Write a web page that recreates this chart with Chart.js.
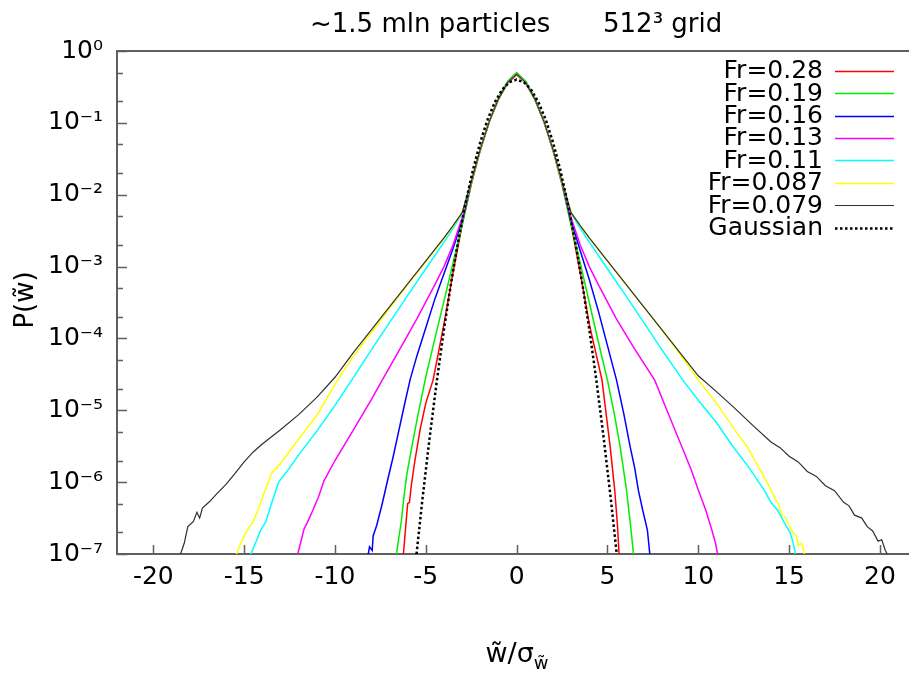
<!DOCTYPE html>
<html><head><meta charset="utf-8">
<script src="https://cdn.jsdelivr.net/npm/chart.js@4/dist/chart.umd.min.js"></script>
<style>html,body{margin:0;padding:0;background:#fff}</style>
</head><body>
<canvas id="c" width="909" height="673"></canvas>
<script>
// ---------- data ----------
const seriesLabels = ['Fr=0.28','Fr=0.19','Fr=0.16','Fr=0.13','Fr=0.11','Fr=0.087','Fr=0.079','Gaussian'];
const xTickValues = [-20,-15,-10,-5,0,5,10,15,20];
const yTickExponents = [0,-1,-2,-3,-4,-5,-6,-7];

const fr028X = [-6.25,-6.15,-6.05,-6.0,-5.9,-5.8,-5.6,-5.3,-5.0,-4.6,-4.0,-3.5,-3.0,-2.5,-2.0,-1.5,-1.0,-0.5,0,0.5,1.0,1.5,2.0,2.5,3.0,3.5,4.0,4.7,5.15,5.4,5.55,5.65];
const fr028P = [8.9e-8,1.78e-7,3.55e-7,5.01e-7,5.25e-7,8.91e-7,2.0e-6,5.62e-6,1.26e-5,2.63e-5,1.58e-4,8.32e-4,3.8e-3,0.0138,0.0417,0.105,0.214,0.355,0.468,0.355,0.214,0.105,0.0417,0.0138,3.8e-3,8.32e-4,1.58e-4,2.63e-5,3.09e-6,7.76e-7,2.51e-7,8.9e-8];

const fr019X = [-6.65,-6.5,-6.35,-6.2,-6.05,-5.8,-5.5,-5.04,-4.5,-4.0,-3.5,-3.0,-2.5,-2.0,-1.5,-1.0,-0.5,0,0.5,1.0,1.5,2.0,2.5,3.0,3.5,4.0,4.5,5.0,5.4,5.7,6.05,6.3,6.45];
const fr019P = [8.9e-8,1.58e-7,2.82e-7,6.31e-7,1.26e-6,2.82e-6,7.08e-6,2.63e-5,1.0e-4,3.31e-4,1.12e-3,3.8e-3,0.0141,0.0427,0.107,0.224,0.38,0.5,0.38,0.224,0.107,0.0427,0.0141,3.8e-3,1.12e-3,3.16e-4,8.91e-5,2.63e-5,8.32e-6,3.09e-6,7.76e-7,2.14e-7,8.9e-8];

const fr016X = [-8.2,-8.1,-7.95,-7.9,-7.7,-7.4,-7.1,-6.8,-6.5,-6.2,-5.87,-5.5,-5.0,-4.5,-4.0,-3.5,-3.0,-2.5,-2.0,-1.5,-1.0,-0.5,0,0.5,1.0,1.5,2.0,2.5,3.0,3.5,4.0,4.5,5.0,5.5,5.9,6.25,6.5,6.7,6.95,7.2,7.35];
const fr016P = [8.9e-8,1.26e-7,1.12e-7,1.78e-7,2.51e-7,5.01e-7,1.07e-6,2.24e-6,5.01e-6,1.12e-5,2.63e-5,5.62e-5,1.41e-4,3.55e-4,7.94e-4,1.78e-3,4.37e-3,0.0151,0.0427,0.105,0.214,0.363,0.479,0.363,0.214,0.105,0.0427,0.0151,4.37e-3,1.66e-3,6.61e-4,2.4e-4,7.94e-5,2.63e-5,8.91e-6,3.09e-6,1.58e-6,7.76e-7,3.98e-7,2.14e-7,8.9e-8];

const fr013X = [-12.1,-11.9,-11.7,-11.5,-11.2,-10.9,-10.6,-10.0,-9.0,-8.0,-7.4,-6.5,-5.5,-4.5,-4.0,-3.5,-3.0,-2.5,-2.0,-1.5,-1.0,-0.5,0,0.5,1.0,1.5,2.0,2.5,3.0,3.5,4.0,4.5,5.5,6.5,7.6,8.4,9.1,9.6,10.0,10.4,10.75,10.95,11.1];
const fr013P = [8.9e-8,1.41e-7,2.24e-7,2.82e-7,4.17e-7,6.31e-7,1.05e-6,2.0e-6,5.25e-6,1.41e-5,2.63e-5,6.61e-5,1.86e-4,5.62e-4,1.0e-3,2.0e-3,4.79e-3,0.0151,0.0427,0.105,0.214,0.363,0.479,0.363,0.214,0.105,0.0427,0.0151,4.79e-3,2.0e-3,1.0e-3,5.62e-4,1.86e-4,7.08e-5,2.63e-5,8.32e-6,3.09e-6,1.51e-6,7.76e-7,4.17e-7,2.14e-7,1.41e-7,8.9e-8];

const fr011X = [-14.7,-14.5,-14.3,-14.1,-13.8,-13.5,-13.1,-12.5,-12.0,-11.0,-10.0,-9.0,-8.0,-7.0,-6.0,-5.0,-4.0,-3.5,-3.0,-2.5,-2.0,-1.5,-1.0,-0.5,0,0.5,1.0,1.5,2.0,2.5,3.0,3.5,4.0,5.0,6.0,7.0,8.0,9.15,10.0,11.0,11.9,12.8,13.6,14.0,14.4,14.7,15.05,15.2,15.4];
const fr011P = [8.9e-8,1.2e-7,1.58e-7,2.14e-7,2.82e-7,5.01e-7,1.0e-6,1.58e-6,2.4e-6,5.13e-6,1.17e-5,2.82e-5,6.92e-5,1.66e-4,3.98e-4,9.33e-4,2.19e-3,3.39e-3,5.5e-3,0.0151,0.0427,0.105,0.214,0.363,0.479,0.363,0.214,0.105,0.0427,0.0151,5.5e-3,3.39e-3,2.19e-3,9.33e-4,3.98e-4,1.66e-4,6.92e-5,2.63e-5,1.38e-5,6.76e-6,3.16e-6,1.58e-6,7.94e-7,5.25e-7,3.98e-7,2.82e-7,2.0e-7,1.51e-7,8.9e-8];

const fr0087X = [-15.5,-15.3,-15.1,-14.9,-14.7,-14.5,-14.2,-13.9,-13.5,-13.0,-12.5,-12.0,-11.0,-10.0,-9.0,-8.0,-7.0,-6.0,-5.0,-4.0,-3.5,-3.0,-2.5,-2.0,-1.5,-1.0,-0.5,0,0.5,1.0,1.5,2.0,2.5,3.0,3.5,4.0,5.0,6.0,7.0,8.0,9.0,10.0,11.0,12.0,12.7,13.3,13.95,14.2,14.4,14.6,14.8,15.0,15.2,15.4,15.5,15.7,15.9];
const fr0087P = [8.9e-8,1.2e-7,1.58e-7,2.0e-7,2.4e-7,2.82e-7,4.37e-7,7.08e-7,1.32e-6,1.82e-6,2.69e-6,3.98e-6,8.51e-6,2.29e-5,5.62e-5,1.2e-4,2.63e-4,5.62e-4,1.17e-3,2.45e-3,3.63e-3,5.62e-3,0.0151,0.0427,0.105,0.214,0.363,0.479,0.363,0.214,0.105,0.0427,0.0151,5.62e-3,3.72e-3,2.51e-3,1.2e-3,5.75e-4,2.75e-4,1.32e-4,6.03e-5,2.63e-5,1.26e-5,5.37e-6,3.09e-6,1.66e-6,8.32e-7,6.03e-7,5.01e-7,3.55e-7,3.16e-7,2.51e-7,2.0e-7,1.78e-7,1.32e-7,1.41e-7,8.9e-8];

const fr0079X = [-18.5,-18.3,-18.1,-17.8,-17.6,-17.45,-17.3,-16.9,-16.5,-16.0,-15.5,-15.0,-14.5,-14.0,-13.0,-12.0,-11.0,-10.0,-9.0,-8.0,-7.0,-6.0,-5.0,-4.0,-3.5,-3.0,-2.5,-2.0,-1.5,-1.0,-0.5,0,0.5,1.0,1.5,2.0,2.5,3.0,3.5,4.0,5.0,6.0,7.0,8.0,9.0,10.0,11.0,12.0,13.0,14.0,14.5,15.0,15.5,16.0,16.5,17.0,17.5,18.0,18.3,18.6,19.0,19.3,19.6,19.9,20.1,20.3,20.5];
const fr0079P = [1.0e-7,1.41e-7,2.4e-7,2.82e-7,3.8e-7,3.16e-7,4.37e-7,5.37e-7,6.92e-7,9.33e-7,1.32e-6,1.91e-6,2.63e-6,3.39e-6,5.37e-6,8.71e-6,1.51e-5,2.88e-5,6.31e-5,1.32e-4,2.75e-4,5.75e-4,1.2e-3,2.51e-3,3.72e-3,5.62e-3,0.0151,0.0427,0.105,0.214,0.363,0.479,0.363,0.214,0.105,0.0427,0.0151,5.62e-3,3.72e-3,2.51e-3,1.2e-3,5.75e-4,2.75e-4,1.32e-4,6.31e-5,3.02e-5,1.82e-5,1.07e-5,6.17e-6,3.63e-6,3.02e-6,2.29e-6,1.91e-6,1.41e-6,1.2e-6,8.91e-7,7.59e-7,5.25e-7,4.68e-7,3.47e-7,3.16e-7,2.4e-7,2.09e-7,1.51e-7,1.58e-7,1.12e-7,8.9e-8];

const gaussX = [-5.6,-5.2,-4.8,-4.4,-4.0,-3.6,-3.2,-2.8,-2.4,-2.0,-1.6,-1.2,-0.8,-0.4,0,0.4,0.8,1.2,1.6,2.0,2.4,2.8,3.2,3.6,4.0,4.4,4.8,5.2,5.6];
const gaussP = [6.18e-8,5.364e-7,3.961e-6,2.494e-5,1.338e-4,6.12e-4,2.384e-3,7.915e-3,0.02239,0.05399,0.1109,0.1942,0.2897,0.3683,0.3989,0.3683,0.2897,0.1942,0.1109,0.05399,0.02239,7.915e-3,2.384e-3,6.12e-4,1.338e-4,2.494e-5,3.961e-6,5.364e-7,6.18e-8];

// ---------- styles ----------
const seriesX = [fr028X,fr019X,fr016X,fr013X,fr011X,fr0087X,fr0079X,gaussX];
const seriesP = [fr028P,fr019P,fr016P,fr013P,fr011P,fr0087P,fr0079P,gaussP];
const lineColors = ['#ff0000','#00ee00','#0000ff','#ff00ff','#00ffff','#ffff00','#303030','#000000'];
const lineWidths = [1.5,1.5,1.5,1.5,1.5,1.5,1.2,2.5];
const lineDashes = [[],[],[],[],[],[],[],[2.5,2.5]];

const FONT = 'DejaVu Sans';
const FRAME = '#606060';
const sup = {'-':'\u207B','0':'\u2070','1':'\u00B9','2':'\u00B2','3':'\u00B3','4':'\u2074','5':'\u2075','6':'\u2076','7':'\u2077','8':'\u2078','9':'\u2079'};
const toSup = s => String(s).split('').map(c => sup[c] || c).join('');

const datasets = seriesLabels.map((lab, i) => ({
  label: lab,
  data: seriesX[i].map((x, j) => ({x: x, y: seriesP[i][j]})),
  borderColor: lineColors[i],
  borderWidth: lineWidths[i],
  borderDash: lineDashes[i],
  pointRadius: 0,
  fill: false,
  tension: 0,
  order: seriesLabels.length - i
}));

const decor = {
  id: 'decor',
  afterDraw(chart) {
    const {ctx, chartArea: a, scales: {x, y}} = chart;
    ctx.save();
    ctx.strokeStyle = FRAME; ctx.lineWidth = 2;
    ctx.beginPath(); ctx.moveTo(a.left - 1, a.top); ctx.lineTo(a.right, a.top); ctx.stroke();
    ctx.lineWidth = 1.5;
    ctx.beginPath();
    x.ticks.forEach(t => { const px = Math.round(x.getPixelForValue(t.value)) + 0.5; ctx.moveTo(px, a.bottom); ctx.lineTo(px, a.bottom - 9); });
    y.ticks.forEach(t => { const py = Math.round(y.getPixelForValue(t.value)) + 0.5; ctx.moveTo(a.left, py); ctx.lineTo(a.left + 10, py); });
    yTickExponents.forEach(e => { if (e < 0) [2, 5].forEach(m => { const py = Math.round(y.getPixelForValue(m * Math.pow(10, e))) + 0.5; ctx.moveTo(a.left, py); ctx.lineTo(a.left + 6, py); }); });
    ctx.stroke();

    ctx.fillStyle = '#000';
    ctx.font = '26px "' + FONT + '"';
    ctx.textBaseline = 'middle'; ctx.textAlign = 'left';
    ctx.fillText('~1.5 mln particles', 310, 25);
    ctx.fillText('512' + '\u00B3' + ' grid', 603, 25);
    ctx.font = '25px "' + FONT + '"';
    chart.data.datasets.forEach((ds, i) => {
      const yy = 70.7 + i * 22.4;
      ctx.textAlign = 'right'; ctx.textBaseline = 'middle'; ctx.fillStyle = '#000';
      ctx.fillText(ds.label, 823, yy + 1);
      ctx.strokeStyle = ds.borderColor; ctx.lineWidth = ds.borderWidth;
      ctx.setLineDash(ds.borderDash || []);
      ctx.beginPath(); ctx.moveTo(835, Math.round(yy) + 0.5); ctx.lineTo(894, Math.round(yy) + 0.5); ctx.stroke();
      ctx.setLineDash([]);
    });
    ctx.fillStyle = '#000'; ctx.textAlign = 'left'; ctx.textBaseline = 'alphabetic';
    ctx.font = '27px "' + FONT + '"';
    const main = 'w\u0303/\u03C3';
    const w1 = ctx.measureText(main).width;
    ctx.font = '18px "' + FONT + '"';
    const subTxt = 'w\u0303';
    const w2 = ctx.measureText(subTxt).width;
    const x0 = 517 - (w1 + w2) / 2;
    ctx.font = '27px "' + FONT + '"';
    ctx.fillText(main, x0, 662);
    ctx.font = '18px "' + FONT + '"';
    ctx.fillText(subTxt, x0 + w1, 669);
    ctx.save();
    ctx.translate(33, 300); ctx.rotate(-Math.PI / 2);
    ctx.font = '26px "' + FONT + '"'; ctx.textAlign = 'center'; ctx.textBaseline = 'alphabetic';
    ctx.fillText('P(w\u0303)', 0, 0);
    ctx.restore();
    ctx.restore();
  }
};

new Chart(document.getElementById('c'), {
  type: 'line',
  data: {datasets: datasets},
  options: {
    responsive: false, animation: false, devicePixelRatio: 1,
    layout: {padding: {top: 51, left: 0, right: 0, bottom: 0}},
    plugins: {legend: {display: false}, title: {display: false}, tooltip: {enabled: false}},
    scales: {
      x: {
        type: 'linear', min: -22, max: 21.6,
        afterBuildTicks: s => { s.ticks = xTickValues.map(v => ({value: v})); },
        afterFit: s => { s.height = 119; },
        ticks: {font: {family: FONT, size: 25}, color: '#000', padding: 8, maxRotation: 0, autoSkip: false, callback: v => String(v)},
        grid: {display: false, drawTicks: false},
        border: {display: true, color: FRAME, width: 2}
      },
      y: {
        type: 'logarithmic', min: 1e-7, max: 1,
        afterBuildTicks: s => { s.ticks = yTickExponents.map(e => ({value: Math.pow(10, e)})); },
        afterFit: s => { s.width = 117; },
        ticks: {font: {family: FONT, size: 25}, color: '#000', padding: 14, autoSkip: false, callback: v => '10' + toSup(Math.round(Math.log10(v)))},
        grid: {display: false, drawTicks: false},
        border: {display: true, color: FRAME, width: 2}
      }
    }
  },
  plugins: [decor]
});
</script>
</body></html>
